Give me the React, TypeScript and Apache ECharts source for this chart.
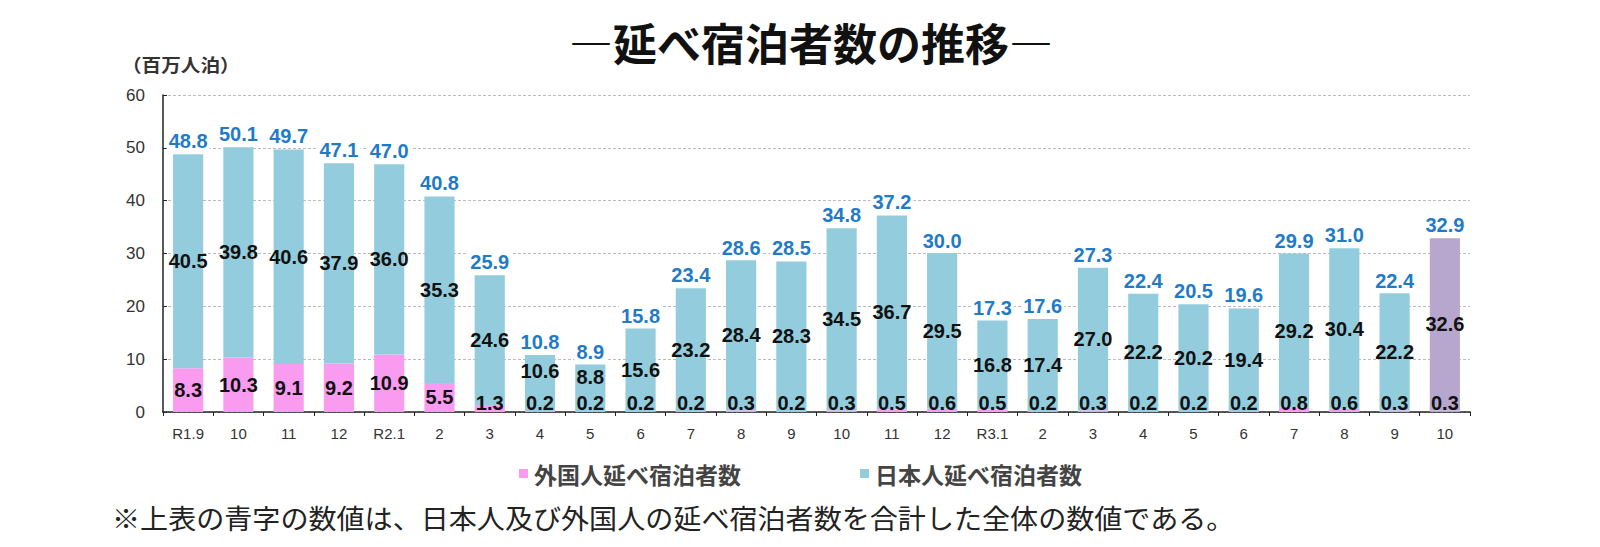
import React, { useEffect, useRef } from "react";
import * as echarts from "echarts";

const categories = ["R1.9", "10", "11", "12", "R2.1", "2", "3", "4", "5", "6", "7", "8", "9", "10", "11", "12", "R3.1", "2", "3", "4", "5", "6", "7", "8", "9", "10"];
const foreignValues = [8.3, 10.3, 9.1, 9.2, 10.9, 5.5, 1.3, 0.2, 0.2, 0.2, 0.2, 0.3, 0.2, 0.3, 0.5, 0.6, 0.5, 0.2, 0.3, 0.2, 0.2, 0.2, 0.8, 0.6, 0.3, 0.3];
const japaneseValues = [40.5, 39.8, 40.6, 37.9, 36.0, 35.3, 24.6, 10.6, 8.8, 15.6, 23.2, 28.4, 28.3, 34.5, 36.7, 29.5, 16.8, 17.4, 27.0, 22.2, 20.2, 19.4, 29.2, 30.4, 22.2, 32.6];
const totalValues = [48.8, 50.1, 49.7, 47.1, 47.0, 40.8, 25.9, 10.8, 8.9, 15.8, 23.4, 28.6, 28.5, 34.8, 37.2, 30.0, 17.3, 17.6, 27.3, 22.4, 20.5, 19.6, 29.9, 31.0, 22.4, 32.9];
const seriesNames = ["外国人延べ宿泊者数", "日本人延べ宿泊者数"];
const titleText = "―延べ宿泊者数の推移―";
const unitText = "（百万人泊）";
const noteText = "※上表の青字の数値は、日本人及び外国人の延べ宿泊者数を合計した全体の数値である。";

const PINK = "#F99CF0";
const BLUE = "#93CDDD";
const PURPLE = "#B7A7CF";
const LABEL_BLUE = "#1F7BC8";
const NUM_FONT = "'Liberation Sans', Arial, sans-serif";
const JP_FONT = "'Noto Sans CJK JP', sans-serif";

const fmt = (p: any) => Number(p.value).toFixed(1);

export default function App() {
  const ref = useRef<HTMLDivElement>(null);
  useEffect(() => {
    if (!ref.current) return;
    const chart = echarts.init(ref.current, null, { renderer: "svg" });
    const last = categories.length - 1;
    const numLabel = {
      show: true,
      color: "#111",
      fontSize: 20,
      fontWeight: "bold",
      fontFamily: NUM_FONT,
      textBorderWidth: 0,
      formatter: fmt,
    };
    const option = {
      animation: false,
      backgroundColor: "#fff",
      grid: { left: 163, right: 130, top: 95, bottom: 135, containLabel: false },
      legend: {
        data: seriesNames,
        left: 514,
        top: 457,
        icon: "rect",
        itemWidth: 9,
        itemHeight: 9,
        itemGap: 119,
        textStyle: { fontSize: 23, color: "#444", fontWeight: "bold", fontFamily: JP_FONT, padding: [0, 0, 0, 1] },
      },
      xAxis: {
        type: "category",
        data: categories,
        axisLine: { show: true, lineStyle: { color: "#222", width: 1.5 } },
        axisTick: { show: true, length: 4, lineStyle: { color: "#222" } },
        axisLabel: { interval: 0, fontSize: 15, color: "#333", fontFamily: NUM_FONT, margin: 14 },
      },
      yAxis: {
        type: "value",
        min: 0,
        max: 60,
        interval: 10,
        axisLine: { show: true, lineStyle: { color: "#222", width: 1.5 } },
        axisTick: { show: true, inside: true, length: 4, lineStyle: { color: "#222" } },
        axisLabel: { fontSize: 17, color: "#333", fontFamily: NUM_FONT, margin: 18 },
        splitLine: { show: true, lineStyle: { color: "#bbb", type: [3, 2], width: 1 } },
      },
      series: [
        {
          name: seriesNames[0],
          type: "bar",
          stack: "stay",
          barWidth: "60%",
          barGap: "-100%",
          itemStyle: { color: PINK },
          label: numLabel,
          data: foreignValues.map((v, i) => ({
            value: v,
            itemStyle: i === last ? { color: PURPLE } : undefined,
            label: v < 3 ? { position: "insideBottom", distance: -1 } : { position: "inside" },
          })),
        },
        {
          name: seriesNames[1],
          type: "bar",
          stack: "stay",
          barWidth: "60%",
          barGap: "-100%",
          itemStyle: { color: BLUE },
          label: numLabel,
          data: japaneseValues.map((v, i) => ({
            value: v,
            itemStyle: i === last ? { color: PURPLE } : undefined,
            label:
              v < 12
                ? { position: ["50%", "28%"], align: "center", verticalAlign: "middle" }
                : { position: "inside" },
          })),
        },
        {
          name: "合計",
          type: "bar",
          barWidth: "60%",
          barGap: "-100%",
          itemStyle: { color: "rgba(0,0,0,0)" },
          label: {
            show: true,
            position: "top",
            distance: 3,
            color: LABEL_BLUE,
            fontSize: 20,
            fontWeight: "bold",
            fontFamily: NUM_FONT,
            backgroundColor: "#fff",
            padding: [0, 2],
            formatter: fmt,
          },
          data: totalValues,
          z: 3,
        },
      ],
      graphic: [
        {
          type: "text",
          x: 811,
          y: 42,
          style: {
            text: titleText,
            fill: "#111",
            fontSize: 44,
            fontWeight: "bold",
            fontFamily: JP_FONT,
            textAlign: "center",
            textVerticalAlign: "middle",
          },
        },
        {
          type: "text",
          x: 122,
          y: 64,
          scaleX: 1.09,
          style: {
            text: unitText,
            fill: "#333",
            fontSize: 18,
            fontWeight: "bold",
            fontFamily: JP_FONT,
            textAlign: "left",
            textVerticalAlign: "middle",
          },
        },
        {
          type: "text",
          x: 112,
          y: 517,
          scaleX: 1.04,
          style: {
            text: noteText,
            fill: "#222",
            fontSize: 27,
            fontFamily: JP_FONT,
            textAlign: "left",
            textVerticalAlign: "middle",
          },
        },
      ],
    };
    chart.setOption(option as any);
    return () => chart.dispose();
  }, []);
  return (
    <div
      ref={ref}
      style={{ position: "fixed", left: 0, top: 0, width: 1600, height: 547 }}
    />
  );
}
